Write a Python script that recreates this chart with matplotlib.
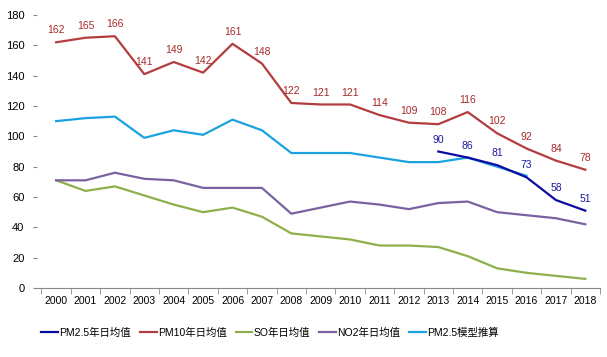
import numpy as np
import matplotlib.pyplot as plt

plt.rcParams['font.family'] = ['Liberation Sans', 'Noto Sans CJK SC']

years = [str(y) for y in range(2000, 2019)]

pm10 = [162, 165, 166, 141, 149, 142, 161, 148, 122, 121, 121, 114, 109, 108, 116, 102, 92, 84, 78]
pm25_model = [110, 112, 113, 99, 104, 101, 111, 104, 89, 89, 89, 86, 83, 83, 86, 80, 74]
no2 = [71, 71, 76, 72, 71, 66, 66, 66, 49, 53, 57, 55, 52, 56, 57, 50, 48, 46, 42]
so2 = [71, 64, 67, 61, 55, 50, 53, 47, 36, 34, 32, 28, 28, 27, 21, 13, 10, 8, 6]
pm25_years = ['2013', '2014', '2015', '2016', '2017', '2018']
pm25 = [90, 86, 81, 73, 58, 51]

labels = ['PM2.5年日均值', 'PM10年日均值', 'SO年日均值', 'NO2年日均值', 'PM2.5模型推算']
c_pm25 = '#0c0ca0'
c_pm10 = '#b43c3e'
c_so2 = '#8db04a'
c_no2 = '#7a62a0'
c_model = '#1aa2e0'

fig = plt.figure(figsize=(6.07, 3.57), dpi=100)
ax = fig.add_axes([37 / 607, 1 - 288 / 357, 563 / 607, 273 / 357])

x = np.arange(len(years))
x25 = np.array([years.index(y) for y in pm25_years])

# model line drawn under the measured PM2.5 line
l5, = ax.plot(x[:len(pm25_model)], pm25_model, color=c_model, lw=1.6)
l2, = ax.plot(x, pm10, color=c_pm10, lw=1.6)
l3, = ax.plot(x, so2, color=c_so2, lw=1.6)
l4, = ax.plot(x, no2, color=c_no2, lw=1.6)
l1, = ax.plot(x25, pm25, color=c_pm25, lw=1.6, zorder=5)

for xi, v in zip(x, pm10):
    ax.annotate(str(v), (xi, v), xytext=(0, 5), textcoords='offset points',
                ha='center', va='bottom', fontsize=7.5, color='#a52a2a')
for xi, v in zip(x25, pm25):
    ax.annotate(str(v), (xi, v), xytext=(0, 5), textcoords='offset points',
                ha='center', va='bottom', fontsize=7.5, color='#1a1aa0')

ax.set_xlim(-0.65, 18.5)
ax.set_ylim(0, 180)
ax.set_yticks(range(0, 181, 20))
ax.set_xticks(x)
ax.set_xticklabels(years, fontsize=7.5)
ax.set_xticks(np.arange(-0.5, 18.6, 1), minor=True)
ax.tick_params(axis='x', which='major', length=0, pad=6)
ax.tick_params(axis='x', which='minor', length=4, color='#888888', direction='out')
ax.tick_params(axis='y', labelsize=8, length=3, color='#888888', pad=6)
for s in ['top', 'right', 'left']:
    ax.spines[s].set_visible(False)
ax.spines['bottom'].set_color('#888888')

fig.legend([l1, l2, l3, l4, l5], labels, loc='center', bbox_to_anchor=(270 / 607, 1 - 333 / 357),
           ncol=5, frameon=False, fontsize=7.5, handlelength=1.6, handletextpad=0.1,
           columnspacing=0.9)

fig.savefig('out.png', dpi=100)
